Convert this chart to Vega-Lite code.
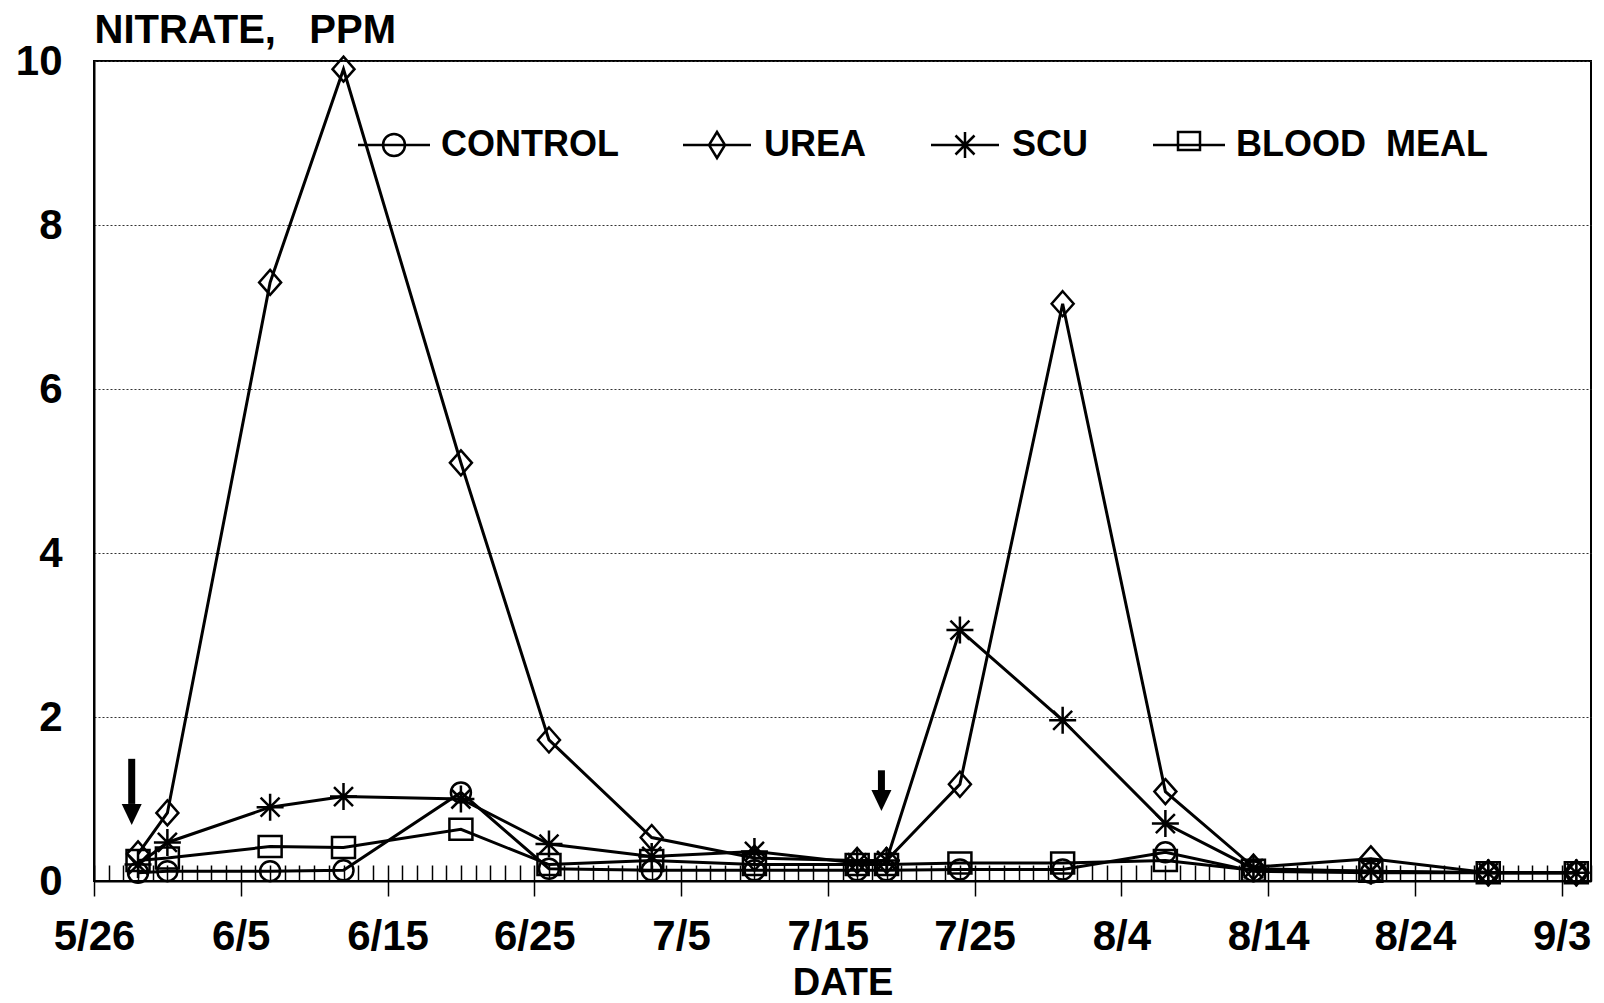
{
  "$schema": "https://vega.github.io/schema/vega-lite/v6.json",
  "width": 1497,
  "height": 820,
  "autosize": {"type": "none"},
  "padding": {"left": 94, "top": 61, "right": 13, "bottom": 122},
  "background": "white",
  "config": {"view": {"stroke": "black", "strokeWidth": 2}, "font": "Liberation Sans"},
  "datasets": {
    "nitrate": [
      {"date": "1990-05-29T00:00", "series": "CONTROL", "value": 0.10},
      {"date": "1990-05-31T00:00", "series": "CONTROL", "value": 0.12},
      {"date": "1990-06-07T00:00", "series": "CONTROL", "value": 0.12},
      {"date": "1990-06-12T00:00", "series": "CONTROL", "value": 0.13},
      {"date": "1990-06-20T00:00", "series": "CONTROL", "value": 1.08},
      {"date": "1990-06-26T00:00", "series": "CONTROL", "value": 0.15},
      {"date": "1990-07-03T00:00", "series": "CONTROL", "value": 0.13},
      {"date": "1990-07-10T00:00", "series": "CONTROL", "value": 0.13},
      {"date": "1990-07-17T00:00", "series": "CONTROL", "value": 0.13},
      {"date": "1990-07-19T00:00", "series": "CONTROL", "value": 0.13},
      {"date": "1990-07-24T00:00", "series": "CONTROL", "value": 0.14},
      {"date": "1990-07-31T00:00", "series": "CONTROL", "value": 0.14},
      {"date": "1990-08-07T00:00", "series": "CONTROL", "value": 0.35},
      {"date": "1990-08-13T00:00", "series": "CONTROL", "value": 0.12},
      {"date": "1990-08-21T00:00", "series": "CONTROL", "value": 0.10},
      {"date": "1990-08-29T00:00", "series": "CONTROL", "value": 0.10},
      {"date": "1990-09-04T00:00", "series": "CONTROL", "value": 0.10},
      {"date": "1990-05-29T00:00", "series": "UREA", "value": 0.33},
      {"date": "1990-05-31T00:00", "series": "UREA", "value": 0.83},
      {"date": "1990-06-07T00:00", "series": "UREA", "value": 7.3},
      {"date": "1990-06-12T00:00", "series": "UREA", "value": 9.9},
      {"date": "1990-06-20T00:00", "series": "UREA", "value": 5.1},
      {"date": "1990-06-26T00:00", "series": "UREA", "value": 1.72},
      {"date": "1990-07-03T00:00", "series": "UREA", "value": 0.53},
      {"date": "1990-07-10T00:00", "series": "UREA", "value": 0.28},
      {"date": "1990-07-17T00:00", "series": "UREA", "value": 0.25},
      {"date": "1990-07-19T00:00", "series": "UREA", "value": 0.25},
      {"date": "1990-07-24T00:00", "series": "UREA", "value": 1.18},
      {"date": "1990-07-31T00:00", "series": "UREA", "value": 7.04},
      {"date": "1990-08-07T00:00", "series": "UREA", "value": 1.09},
      {"date": "1990-08-13T00:00", "series": "UREA", "value": 0.17},
      {"date": "1990-08-21T00:00", "series": "UREA", "value": 0.27},
      {"date": "1990-08-29T00:00", "series": "UREA", "value": 0.10},
      {"date": "1990-09-04T00:00", "series": "UREA", "value": 0.10},
      {"date": "1990-05-29T00:00", "series": "SCU", "value": 0.20},
      {"date": "1990-05-31T00:00", "series": "SCU", "value": 0.47},
      {"date": "1990-06-07T00:00", "series": "SCU", "value": 0.90},
      {"date": "1990-06-12T00:00", "series": "SCU", "value": 1.03},
      {"date": "1990-06-20T00:00", "series": "SCU", "value": 1.00},
      {"date": "1990-06-26T00:00", "series": "SCU", "value": 0.45},
      {"date": "1990-07-03T00:00", "series": "SCU", "value": 0.30},
      {"date": "1990-07-10T00:00", "series": "SCU", "value": 0.36},
      {"date": "1990-07-17T00:00", "series": "SCU", "value": 0.22},
      {"date": "1990-07-19T00:00", "series": "SCU", "value": 0.25},
      {"date": "1990-07-24T00:00", "series": "SCU", "value": 3.06},
      {"date": "1990-07-31T00:00", "series": "SCU", "value": 1.96},
      {"date": "1990-08-07T00:00", "series": "SCU", "value": 0.70},
      {"date": "1990-08-13T00:00", "series": "SCU", "value": 0.15},
      {"date": "1990-08-21T00:00", "series": "SCU", "value": 0.12},
      {"date": "1990-08-29T00:00", "series": "SCU", "value": 0.10},
      {"date": "1990-09-04T00:00", "series": "SCU", "value": 0.10},
      {"date": "1990-05-29T00:00", "series": "BLOOD MEAL", "value": 0.25},
      {"date": "1990-05-31T00:00", "series": "BLOOD MEAL", "value": 0.28},
      {"date": "1990-06-07T00:00", "series": "BLOOD MEAL", "value": 0.42},
      {"date": "1990-06-12T00:00", "series": "BLOOD MEAL", "value": 0.41},
      {"date": "1990-06-20T00:00", "series": "BLOOD MEAL", "value": 0.63},
      {"date": "1990-06-26T00:00", "series": "BLOOD MEAL", "value": 0.20},
      {"date": "1990-07-03T00:00", "series": "BLOOD MEAL", "value": 0.25},
      {"date": "1990-07-10T00:00", "series": "BLOOD MEAL", "value": 0.20},
      {"date": "1990-07-17T00:00", "series": "BLOOD MEAL", "value": 0.20},
      {"date": "1990-07-19T00:00", "series": "BLOOD MEAL", "value": 0.20},
      {"date": "1990-07-24T00:00", "series": "BLOOD MEAL", "value": 0.22},
      {"date": "1990-07-31T00:00", "series": "BLOOD MEAL", "value": 0.22},
      {"date": "1990-08-07T00:00", "series": "BLOOD MEAL", "value": 0.25},
      {"date": "1990-08-13T00:00", "series": "BLOOD MEAL", "value": 0.13},
      {"date": "1990-08-21T00:00", "series": "BLOOD MEAL", "value": 0.12},
      {"date": "1990-08-29T00:00", "series": "BLOOD MEAL", "value": 0.10},
      {"date": "1990-09-04T00:00", "series": "BLOOD MEAL", "value": 0.10}
    ],
    "arrows": [
      {"date": "1990-05-28T13:40", "top": 1.49, "base": 0.94},
      {"date": "1990-07-18T15:40", "top": 1.35, "base": 1.11}
    ]
  },
  "layer": [
    {
      "data": {"name": "nitrate"},
      "mark": {"type": "line", "color": "black", "strokeWidth": 3},
      "encoding": {
        "x": {
          "field": "date", "type": "temporal",
          "scale": {"domain": [{"year": 1990, "month": 5, "date": 26}, {"year": 1990, "month": 9, "date": 5}], "nice": false},
          "axis": {
            "orient": "bottom",
            "values": [
              {"year": 1990, "month": 5, "date": 26},
              {"year": 1990, "month": 6, "date": 5},
              {"year": 1990, "month": 6, "date": 15},
              {"year": 1990, "month": 6, "date": 25},
              {"year": 1990, "month": 7, "date": 5},
              {"year": 1990, "month": 7, "date": 15},
              {"year": 1990, "month": 7, "date": 25},
              {"year": 1990, "month": 8, "date": 4},
              {"year": 1990, "month": 8, "date": 14},
              {"year": 1990, "month": 8, "date": 24},
              {"year": 1990, "month": 9, "date": 3}
            ],
            "format": "%-m/%-d",
            "labelFont": "Liberation Sans", "labelFontSize": 42, "labelFontWeight": "bold", "labelColor": "black",
            "labelBaseline": "alphabetic", "labelPadding": 53, "labelFlush": false, "labelOverlap": false, "labelBound": false,
            "tickSize": 15, "tickWidth": 1.5, "tickColor": "black",
            "domainColor": "black", "domainWidth": 2, "grid": false,
            "title": "DATE", "titleFont": "Liberation Sans", "titleFontSize": 38, "titleFontWeight": "bold", "titleColor": "black",
            "titleBaseline": "alphabetic", "titleY": 113
          }
        },
        "y": {
          "field": "value", "type": "quantitative",
          "scale": {"domain": [0, 10], "nice": false},
          "axis": {
            "orient": "left",
            "values": [0, 2, 4, 6, 8, 10],
            "format": "d",
            "labelFont": "Liberation Sans", "labelFontSize": 42, "labelFontWeight": "bold", "labelColor": "black",
            "labelPadding": 32, "ticks": false, "tickSize": 0,
            "domainColor": "black", "domainWidth": 2,
            "grid": true, "gridDash": [2, 2], "gridColor": "#333333", "gridWidth": 1,
            "title": "NITRATE,\u00a0\u00a0\u00a0PPM", "titleAngle": 0, "titleX": 0, "titleY": -19, "titleAlign": "left", "titleBaseline": "alphabetic",
            "titleFont": "Liberation Sans", "titleFontSize": 40, "titleFontWeight": "bold", "titleColor": "black"
          }
        },
        "detail": {"field": "series", "type": "nominal"}
      }
    },
    {
      "data": {"name": "nitrate"},
      "mark": {"type": "point", "filled": false, "color": "black", "strokeWidth": 2.5, "size": 400, "opacity": 1},
      "encoding": {
        "x": {
          "field": "date", "type": "temporal",
          "axis": {
            "orient": "bottom",
            "tickCount": {"interval": "day", "step": 1},
            "labels": false, "domain": false, "grid": false, "title": null,
            "ticks": true, "tickSize": -16, "tickWidth": 1.5, "tickColor": "black"
          }
        },
        "y": {"field": "value", "type": "quantitative"},
        "shape": {
          "field": "series", "type": "nominal",
          "scale": {
            "domain": ["CONTROL", "UREA", "SCU", "BLOOD MEAL"],
            "range": [
              "circle",
              "M0,-1.25L1.1,0L0,1.25L-1.1,0Z",
              "M-1.35,0L1.35,0M0,-1.35L0,1.35M-0.95,-0.95L0.95,0.95M-0.95,0.95L0.95,-0.95",
              "M-1.15,-1.05L1.15,-1.05L1.15,1.05L-1.15,1.05Z"
            ]
          },
          "legend": null
        }
      }
    },
    {
      "data": {"name": "nitrate"},
      "transform": [{"filter": "datum.value < 0"}],
      "mark": {"type": "point", "filled": false, "color": "black", "strokeWidth": 2.5, "size": 400, "opacity": 1},
      "encoding": {
        "x": {"field": "date", "type": "temporal", "axis": null},
        "y": {"field": "value", "type": "quantitative"},
        "shape": {
          "field": "series", "type": "nominal",
          "scale": {
            "domain": ["CONTROL", "UREA", "SCU", "BLOOD MEAL"],
            "range": [
              "M-3.6,0L3.6,0M-1.1,0A1.1,1.1,0,1,0,1.1,0A1.1,1.1,0,1,0,-1.1,0Z",
              "M-3.4,0L3.4,0M0,-1.3L0.8,0L0,1.3L-0.8,0Z",
              "M-3.4,0L3.4,0M0,-1.3L0,1.3M-0.95,-0.95L0.95,0.95M-0.95,0.95L0.95,-0.95",
              "M-3.6,0L3.6,0M-1.1,-1.3L1.1,-1.3L1.1,0.5L-1.1,0.5Z"
            ]
          },
          "legend": {
            "title": null, "orient": "none", "legendX": 282, "legendY": 66,
            "direction": "horizontal", "columns": 4, "columnPadding": 59,
            "symbolSize": 400, "symbolStrokeWidth": 2.5, "symbolStrokeColor": "black", "symbolFillColor": "transparent",
            "labelFont": "Liberation Sans", "labelFontSize": 36, "labelFontWeight": "bold", "labelColor": "black",
            "labelOffset": 29, "labelLimit": 0, "padding": 0,
            "labelExpr": "replace(datum.label, ' ', '\u00a0\u00a0')"
          }
        }
      }
    },
    {
      "data": {"name": "arrows"},
      "mark": {"type": "rule", "color": "black", "strokeWidth": 7},
      "encoding": {
        "x": {"field": "date", "type": "temporal", "axis": null},
        "y": {"field": "top", "type": "quantitative"},
        "y2": {"field": "base"}
      }
    },
    {
      "data": {"name": "arrows"},
      "mark": {"type": "point", "filled": true, "color": "black", "size": 400, "shape": "M-1,0L1,0L0,2.1Z", "opacity": 1, "strokeWidth": 0},
      "encoding": {
        "x": {"field": "date", "type": "temporal", "axis": null},
        "y": {"field": "base", "type": "quantitative"}
      }
    }
  ],
  "resolve": {"axis": {"x": "independent"}, "scale": {"shape": "independent"}}
}
